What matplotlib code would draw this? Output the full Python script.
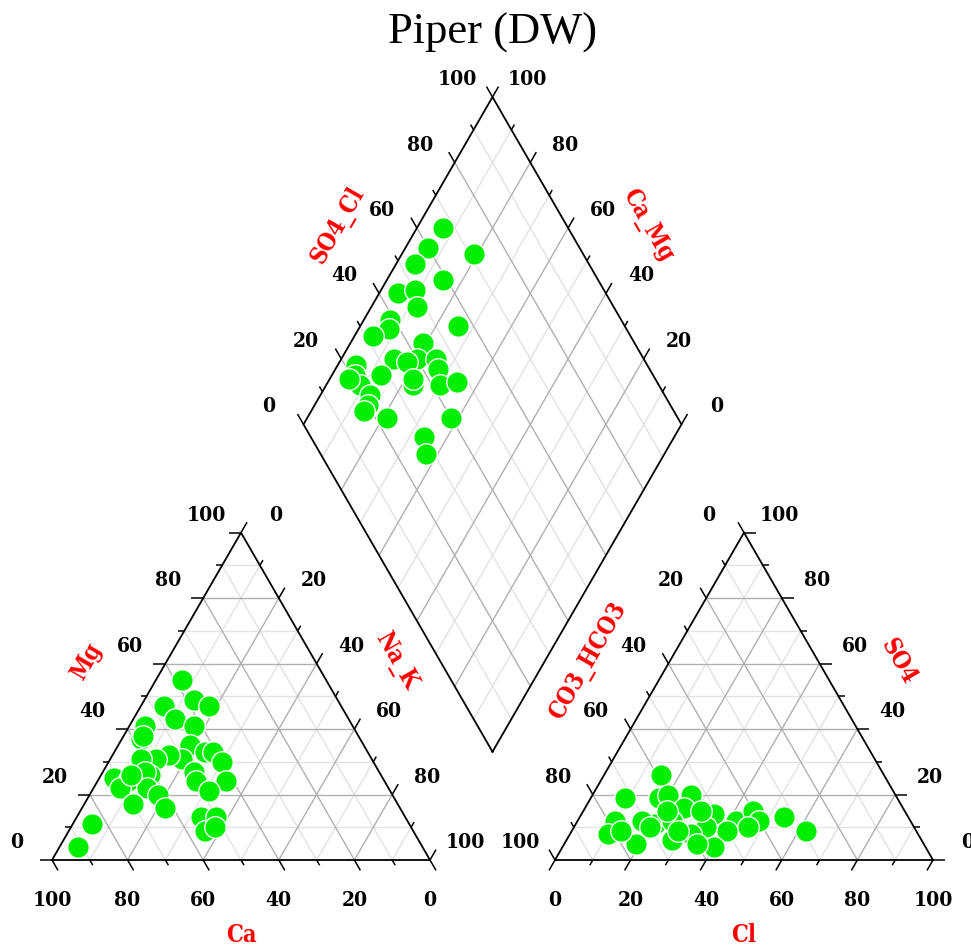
import numpy as np
import matplotlib
matplotlib.use("Agg")
import matplotlib.pyplot as plt

# ---------------- data (percent) ----------------
# Cation triangle
cat_ca = [38, 38, 35, 47, 46, 42, 55, 58, 46, 43, 41, 50, 53, 57, 61, 40, 49, 61,
          62, 42, 50, 71, 68, 71, 64, 48, 62, 70, 62, 54, 50, 55, 52, 84, 91, 57, 66]
cat_mg = [55, 49, 47, 47, 43, 41, 41, 37, 35, 33, 33, 31, 32, 31, 31, 30, 27, 26,
          27, 24, 24, 25, 24, 22, 22, 21, 20, 17, 16, 13, 13, 9, 10, 11, 4, 38, 26]
cat_nak = [7, 13, 18, 6, 11, 17, 4, 5, 19, 24, 26, 19, 15, 12, 8, 30, 24, 13,
           11, 34, 26, 4, 8, 7, 14, 31, 18, 13, 22, 33, 37, 36, 38, 5, 5, 5, 8]

# Anion triangle
an_cl = [15, 9, 18, 20, 26, 26, 33, 35, 42, 45, 48, 46, 54, 62, 41, 35, 32, 28,
         40, 35, 21, 17, 25, 12, 10, 10, 19, 13, 31, 22, 28, 20]
an_so4 = [26, 19, 19, 20, 20, 16, 14, 14, 12, 15, 12, 10, 13, 9, 9, 10, 8, 6,
          4, 5, 11, 12, 12, 10, 12, 8, 5, 9, 15, 15, 9, 10]
an_co3 = [59, 72, 63, 60, 54, 58, 53, 51, 46, 40, 40, 44, 33, 29, 50, 55, 60, 66,
          56, 60, 68, 71, 63, 78, 78, 82, 76, 78, 54, 63, 63, 70]

# Diamond
dia_so4cl = [67, 71, 60, 54, 59, 45, 50, 48, 56, 39, 37, 32, 44, 34, 40, 37, 45,
             44, 23, 21, 28, 21, 35, 42, 47, 22, 20, 18, 23, 40, 30, 28, 19, 36]
dia_camg = [93, 81, 94, 95, 85, 95, 91, 88, 74, 93, 92, 95, 81, 86, 80, 82, 75,
            73, 95, 94, 87, 91, 77, 70, 66, 87, 86, 86, 79, 62, 66, 63, 95, 78]

tick_values = list(range(0, 101, 10))
label_values = list(range(0, 101, 20))
title = "Piper (DW)"

# ---------------- geometry ----------------
H = np.sqrt(3) / 2
GAP = 125 / 378
OX = 1 + GAP
B = np.array([1 + GAP / 2, GAP * H])

def cat_pos(ca, mg, na):
    return np.array([(na + mg / 2) / 100, mg * H / 100])

def an_pos(cl, so4, co3):
    return np.array([OX + (cl + so4 / 2) / 100, so4 * H / 100])

def dia_pos(c, s):
    return B + c / 100 * np.array([-0.5, H]) + s / 100 * np.array([0.5, H])

fig = plt.figure(figsize=(9.71, 9.48), dpi=100)
ax = fig.add_axes([0, 0, 1, 1])
ax.set_xlim(-52 / 378, (971 - 52) / 378)
ax.set_ylim((860 - 948) / 378, 860 / 378)
ax.axis("off")

MAJ_C, MIN_C = "#b0b0b0", "#e2e2e2"
EDGE_LW, TICK_LW = 1.3, 1.1
TICK_FONT = dict(family="DejaVu Serif", fontsize=15, color="black",
                 fontweight="bold", fontstretch="condensed")
TITLE_FONT = dict(family="DejaVu Serif", fontsize=17, color="red", fontweight="bold",
                  fontstretch="condensed")
SIDE_OFF = 35 / 378, 18 / 378
BOT_OFF = 40 / 378

def line(p, q, **kw):
    ax.plot([p[0], q[0]], [p[1], q[1]], solid_capstyle="butt", **kw)

def grid_line(v, p, q):
    major = v % 20 == 0
    line(p, q, color=MAJ_C if major else MIN_C, lw=1.0, zorder=1.5 if major else 1)

def tick(v, p, d):
    ln = (12 if v % 20 == 0 else 6) / 378
    d = np.array(d) / np.linalg.norm(d)
    line(p, p + d * ln, color="black", lw=TICK_LW, zorder=3)

# ----- cation triangle -----
for v in range(10, 100, 10):
    grid_line(v, cat_pos(100 - v, v, 0), cat_pos(0, v, 100 - v))
    grid_line(v, cat_pos(100 - v, 0, v), cat_pos(0, 100 - v, v))
    grid_line(v, cat_pos(v, 100 - v, 0), cat_pos(v, 0, 100 - v))
tri = [cat_pos(100, 0, 0), cat_pos(0, 0, 100), cat_pos(0, 100, 0), cat_pos(100, 0, 0)]
ax.plot([p[0] for p in tri], [p[1] for p in tri], color="black", lw=EDGE_LW, zorder=3)
for v in tick_values:
    p = cat_pos(v, 0, 100 - v); tick(v, p, (0.5, -H))
    if v in label_values:
        ax.text(p[0], p[1] - BOT_OFF, str(v), ha="center", va="center", **TICK_FONT)
    p = cat_pos(100 - v, v, 0); tick(v, p, (-1, 0))
    if v in label_values:
        ax.text(p[0] - SIDE_OFF[0], p[1] + SIDE_OFF[1], str(v), ha="center", va="center", **TICK_FONT)
    p = cat_pos(0, 100 - v, v); tick(v, p, (0.5, H))
    if v in label_values:
        ax.text(p[0] + SIDE_OFF[0], p[1] + SIDE_OFF[1], str(v), ha="center", va="center", **TICK_FONT)
ax.text(0.5, -75 / 378, "Ca", ha="center", va="center", **TITLE_FONT)
ax.text(0.25 - 0.16, H / 2 + 0.0925, "Mg", rotation=60, ha="center", va="center", **TITLE_FONT)
ax.text(0.75 + 0.16, H / 2 + 0.0925, "Na_K", rotation=-60, ha="center", va="center", **TITLE_FONT)

# ----- anion triangle -----
for v in range(10, 100, 10):
    grid_line(v, an_pos(100 - v, v, 0), an_pos(0, v, 100 - v))
    grid_line(v, an_pos(v, 0, 100 - v), an_pos(v, 100 - v, 0))
    grid_line(v, an_pos(100 - v, 0, v), an_pos(0, 100 - v, v))
tri = [an_pos(0, 0, 100), an_pos(100, 0, 0), an_pos(0, 100, 0), an_pos(0, 0, 100)]
ax.plot([p[0] for p in tri], [p[1] for p in tri], color="black", lw=EDGE_LW, zorder=3)
for v in tick_values:
    p = an_pos(v, 0, 100 - v); tick(v, p, (-0.5, -H))
    if v in label_values:
        ax.text(p[0], p[1] - BOT_OFF, str(v), ha="center", va="center", **TICK_FONT)
    p = an_pos(100 - v, v, 0); tick(v, p, (1, 0))
    if v in label_values:
        ax.text(p[0] + SIDE_OFF[0], p[1] + SIDE_OFF[1], str(v), ha="center", va="center", **TICK_FONT)
    p = an_pos(0, 100 - v, v); tick(v, p, (-0.5, H))
    if v in label_values:
        ax.text(p[0] - SIDE_OFF[0], p[1] + SIDE_OFF[1], str(v), ha="center", va="center", **TICK_FONT)
ax.text(OX + 0.5, -75 / 378, "Cl", ha="center", va="center", **TITLE_FONT)
ax.text(OX + 0.25 - 0.16, H / 2 + 0.0925, "CO3_HCO3", rotation=60, ha="center", va="center", **TITLE_FONT)
ax.text(OX + 0.75 + 0.16, H / 2 + 0.0925, "SO4", rotation=-60, ha="center", va="center", **TITLE_FONT)

# ----- diamond -----
for v in range(10, 100, 10):
    grid_line(v, dia_pos(0, v), dia_pos(100, v))
    grid_line(v, dia_pos(v, 0), dia_pos(v, 100))
dm = [dia_pos(0, 0), dia_pos(100, 0), dia_pos(100, 100), dia_pos(0, 100), dia_pos(0, 0)]
ax.plot([p[0] for p in dm], [p[1] for p in dm], color="black", lw=EDGE_LW, zorder=3)
for v in tick_values:
    p = dia_pos(100, v); tick(v, p, (-0.5, H))
    if v in label_values:
        ax.text(p[0] - SIDE_OFF[0], p[1] + SIDE_OFF[1], str(v), ha="center", va="center", **TICK_FONT)
    p = dia_pos(v, 100); tick(v, p, (0.5, H))
    if v in label_values:
        ax.text(p[0] + SIDE_OFF[0], p[1] + SIDE_OFF[1], str(v), ha="center", va="center", **TICK_FONT)
mid_l = (dia_pos(100, 0) + dia_pos(100, 100)) / 2
mid_r = (dia_pos(0, 100) + dia_pos(100, 100)) / 2
ax.text(mid_l[0] - 0.16, mid_l[1] + 0.0925, "SO4_Cl", rotation=60, ha="center", va="center", **TITLE_FONT)
ax.text(mid_r[0] + 0.16, mid_r[1] + 0.0925, "Ca_Mg", rotation=-60, ha="center", va="center", **TITLE_FONT)

# ----- points -----
MK = dict(s=240, c="#00EE00", edgecolors="white", linewidths=1.0, zorder=5, clip_on=False)
cp = np.array([cat_pos(a, b, c) for a, b, c in zip(cat_ca, cat_mg, cat_nak)])
ax.scatter(cp[:, 0], cp[:, 1], **MK)
apn = np.array([an_pos(a, b, c) for a, b, c in zip(an_cl, an_so4, an_co3)])
ax.scatter(apn[:, 0], apn[:, 1], **MK)
dp = np.array([dia_pos(c, s) for c, s in zip(dia_camg, dia_so4cl)])
ax.scatter(dp[:, 0], dp[:, 1], **MK)

ax.text(B[0], (860 - 33) / 378, title, ha="center", va="center",
        family="Liberation Serif", fontsize=32, color="black")

fig.savefig("out.png", dpi=100)
